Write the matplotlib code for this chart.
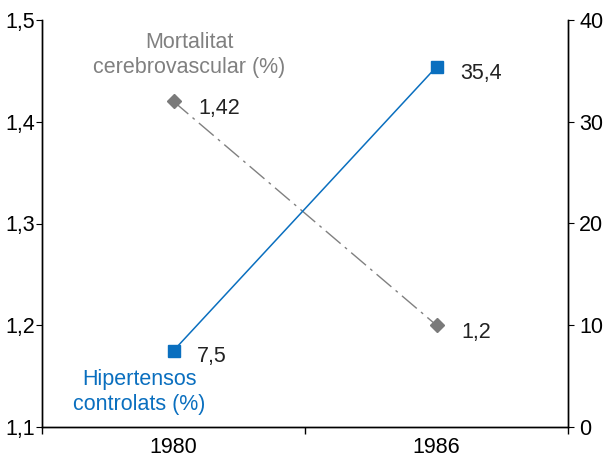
import matplotlib
matplotlib.use("Agg")
import matplotlib.pyplot as plt

# data
years = ["1980", "1986"]
mortality = [1.42, 1.2]          # left axis
mortality_labels = ["1,42", "1,2"]
hypertension = [7.5, 35.4]       # right axis
hypertension_labels = ["7,5", "35,4"]

left_ticks = [1.1, 1.2, 1.3, 1.4, 1.5]
left_ticklabels = ["1,1", "1,2", "1,3", "1,4", "1,5"]
right_ticks = [0, 10, 20, 30, 40]

BLUE = "#0a6fbf"
GREY = "#808080"
FS = 15.5

plt.rcParams["font.family"] = ["Liberation Sans", "DejaVu Sans"]

fig = plt.figure(figsize=(6.06, 4.59), dpi=100)
ax = fig.add_axes([42 / 606, 32 / 459, 526 / 606, 407 / 459])
ax2 = ax.twinx()

xpos = [0.5, 1.5]

ax.plot(xpos, mortality, color=GREY, lw=1.0, ls=(0, (14, 4, 2, 4)),
        marker="D", ms=7.5, mfc="#7a7a7a", mec="#7a7a7a")
ax2.plot(xpos, hypertension, color=BLUE, lw=1.1,
         marker="s", ms=8, mfc=BLUE, mec=BLUE)

ax.set_xlim(0, 2)
ax.set_ylim(1.1, 1.5)
ax2.set_ylim(0, 40)

ax.set_xticks([0, 1, 2])
ax.set_xticklabels([])
ax.set_xticks(xpos, minor=True)
ax.set_xticklabels(years, minor=True)
ax.tick_params(axis="x", which="minor", length=0, pad=7, labelsize=FS)
ax.tick_params(axis="x", which="major", length=5, direction="out", width=1)

ax.set_yticks(left_ticks)
ax.set_yticklabels(left_ticklabels)
ax.tick_params(axis="y", length=4, direction="out", labelsize=FS, pad=1)
ax2.set_yticks(right_ticks)
ax2.tick_params(axis="y", length=4, direction="out", labelsize=FS, pad=4)

for a in (ax, ax2):
    a.spines["top"].set_visible(False)
    for s in a.spines.values():
        s.set_linewidth(1)

# value labels
for x, y, t in zip(xpos, mortality, mortality_labels):
    ax.annotate(t, (x, y), xytext=(18, -5), textcoords="offset points",
                ha="left", va="center", fontsize=FS, color="#222222")
for x, y, t in zip(xpos, hypertension, hypertension_labels):
    ax2.annotate(t, (x, y), xytext=(17, -4.5), textcoords="offset points",
                 ha="left", va="center", fontsize=FS, color="#222222")

# series labels
ax.text(0.56, 1.4656, "Mortalitat\ncerebrovascular (%)", ha="center", va="center",
        fontsize=FS, color=GREY, linespacing=1.25)
ax2.text(0.37, 3.45, "Hipertensos\ncontrolats (%)", ha="center", va="center",
         fontsize=FS, color=BLUE, linespacing=1.25)

fig.savefig("out.png", dpi=100)
